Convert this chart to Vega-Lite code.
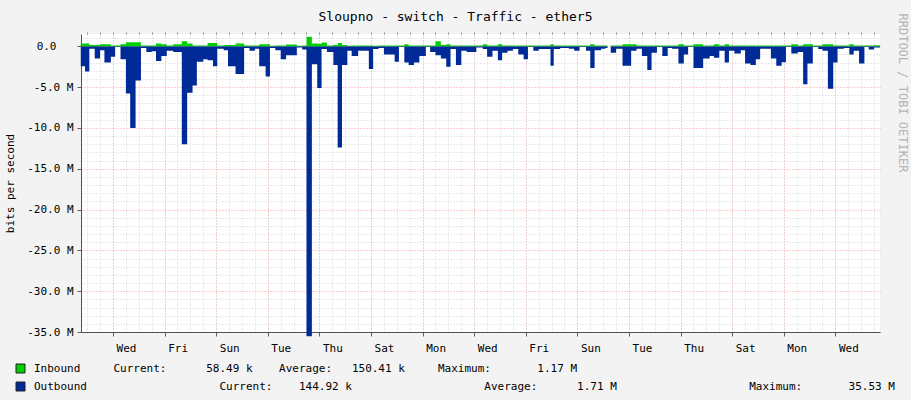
{
  "$schema": "https://vega.github.io/schema/vega-lite/v6.json",
  "width": 799,
  "height": 298,
  "autosize": "none",
  "padding": {"left": 81, "top": 34, "right": 31, "bottom": 68},
  "background": "#F3F3F3",
  "view": {"fill": "white", "stroke": null},
  "config": {
    "font": "DejaVu Sans Mono",
    "axis": {"labelFont": "DejaVu Sans Mono", "titleFont": "DejaVu Sans Mono", "labelFontSize": 11, "labelColor": "#000000", "titleFontWeight": "normal", "titleFontSize": 11, "titleColor": "#000000"},
    "legend": {"labelFont": "DejaVu Sans Mono"}
  },
  "title": {
    "text": "Sloupno - switch - Traffic - ether5",
    "font": "DejaVu Sans Mono",
    "fontSize": 13,
    "fontWeight": "normal",
    "color": "#000000",
    "anchor": "middle",
    "frame": "group",
    "dx": -25,
    "offset": 0,
    "dy": 11
  },
  "data": {
    "values": [
      {"t": "2024-01-01T18:00:00Z", "in": 330000, "out": -2450000},
      {"t": "2024-01-01T22:00:00Z", "in": 330000, "out": -3100000},
      {"t": "2024-01-02T02:00:00Z", "in": 150000, "out": -300000},
      {"t": "2024-01-02T07:00:00Z", "in": 150000, "out": -1500000},
      {"t": "2024-01-02T12:00:00Z", "in": 250000, "out": -500000},
      {"t": "2024-01-02T16:00:00Z", "in": 250000, "out": -2000000},
      {"t": "2024-01-02T22:00:00Z", "in": 100000, "out": -1300000},
      {"t": "2024-01-03T02:00:00Z", "in": 100000, "out": -100000},
      {"t": "2024-01-03T07:00:00Z", "in": 250000, "out": -1600000},
      {"t": "2024-01-03T12:00:00Z", "in": 500000, "out": -5800000},
      {"t": "2024-01-03T16:00:00Z", "in": 500000, "out": -10000000},
      {"t": "2024-01-03T21:00:00Z", "in": 500000, "out": -4200000},
      {"t": "2024-01-04T02:00:00Z", "in": 100000, "out": -200000},
      {"t": "2024-01-04T07:00:00Z", "in": 80000, "out": -700000},
      {"t": "2024-01-04T12:00:00Z", "in": 80000, "out": -600000},
      {"t": "2024-01-04T16:00:00Z", "in": 330000, "out": -1800000},
      {"t": "2024-01-04T21:00:00Z", "in": 250000, "out": -1200000},
      {"t": "2024-01-05T02:00:00Z", "in": 80000, "out": -550000},
      {"t": "2024-01-05T08:00:00Z", "in": 250000, "out": -700000},
      {"t": "2024-01-05T16:00:00Z", "in": 600000, "out": -12000000},
      {"t": "2024-01-05T21:00:00Z", "in": 330000, "out": -5700000},
      {"t": "2024-01-06T02:00:00Z", "in": 80000, "out": -4800000},
      {"t": "2024-01-06T06:00:00Z", "in": 80000, "out": -1900000},
      {"t": "2024-01-06T12:00:00Z", "in": 80000, "out": -1600000},
      {"t": "2024-01-06T16:00:00Z", "in": 400000, "out": -1700000},
      {"t": "2024-01-06T21:00:00Z", "in": 400000, "out": -2450000},
      {"t": "2024-01-07T01:00:00Z", "in": 80000, "out": -300000},
      {"t": "2024-01-07T07:00:00Z", "in": 150000, "out": -500000},
      {"t": "2024-01-07T11:00:00Z", "in": 150000, "out": -2450000},
      {"t": "2024-01-07T18:00:00Z", "in": 330000, "out": -3400000},
      {"t": "2024-01-08T02:00:00Z", "in": 100000, "out": -200000},
      {"t": "2024-01-08T07:00:00Z", "in": 100000, "out": -550000},
      {"t": "2024-01-08T12:00:00Z", "in": 100000, "out": -300000},
      {"t": "2024-01-08T16:00:00Z", "in": 250000, "out": -2450000},
      {"t": "2024-01-08T22:00:00Z", "in": 250000, "out": -3700000},
      {"t": "2024-01-09T02:00:00Z", "in": 50000, "out": -200000},
      {"t": "2024-01-09T07:00:00Z", "in": 100000, "out": -500000},
      {"t": "2024-01-09T12:00:00Z", "in": 100000, "out": -1600000},
      {"t": "2024-01-09T17:00:00Z", "in": 200000, "out": -1100000},
      {"t": "2024-01-10T03:00:00Z", "in": 50000, "out": -150000},
      {"t": "2024-01-10T08:00:00Z", "in": 80000, "out": -400000},
      {"t": "2024-01-10T12:00:00Z", "in": 1170000, "out": -35530000},
      {"t": "2024-01-10T17:00:00Z", "in": 330000, "out": -2200000},
      {"t": "2024-01-10T22:00:00Z", "in": 300000, "out": -5100000},
      {"t": "2024-01-11T02:00:00Z", "in": 450000, "out": -350000},
      {"t": "2024-01-11T07:00:00Z", "in": 100000, "out": -700000},
      {"t": "2024-01-11T13:00:00Z", "in": 150000, "out": -2300000},
      {"t": "2024-01-11T17:00:00Z", "in": 400000, "out": -12400000},
      {"t": "2024-01-11T21:00:00Z", "in": 150000, "out": -2300000},
      {"t": "2024-01-12T02:00:00Z", "in": 50000, "out": -550000},
      {"t": "2024-01-12T06:00:00Z", "in": 100000, "out": -1200000},
      {"t": "2024-01-12T12:00:00Z", "in": 100000, "out": -550000},
      {"t": "2024-01-12T22:00:00Z", "in": 100000, "out": -2800000},
      {"t": "2024-01-13T02:00:00Z", "in": 50000, "out": -350000},
      {"t": "2024-01-13T07:00:00Z", "in": 100000, "out": -200000},
      {"t": "2024-01-13T12:00:00Z", "in": 100000, "out": -1000000},
      {"t": "2024-01-13T22:00:00Z", "in": 100000, "out": -1900000},
      {"t": "2024-01-14T02:00:00Z", "in": 100000, "out": -100000},
      {"t": "2024-01-14T07:00:00Z", "in": 250000, "out": -2000000},
      {"t": "2024-01-14T11:00:00Z", "in": 80000, "out": -2300000},
      {"t": "2024-01-14T16:00:00Z", "in": 80000, "out": -2000000},
      {"t": "2024-01-14T21:00:00Z", "in": 80000, "out": -1200000},
      {"t": "2024-01-15T03:00:00Z", "in": 80000, "out": -100000},
      {"t": "2024-01-15T07:00:00Z", "in": 80000, "out": -700000},
      {"t": "2024-01-15T12:00:00Z", "in": 600000, "out": -1100000},
      {"t": "2024-01-15T17:00:00Z", "in": 150000, "out": -1500000},
      {"t": "2024-01-15T22:00:00Z", "in": 250000, "out": -2500000},
      {"t": "2024-01-16T02:00:00Z", "in": 80000, "out": -350000},
      {"t": "2024-01-16T07:00:00Z", "in": 80000, "out": -2300000},
      {"t": "2024-01-16T12:00:00Z", "in": 80000, "out": -550000},
      {"t": "2024-01-16T17:00:00Z", "in": 80000, "out": -700000},
      {"t": "2024-01-17T02:00:00Z", "in": 80000, "out": -150000},
      {"t": "2024-01-17T08:00:00Z", "in": 250000, "out": -350000},
      {"t": "2024-01-17T12:00:00Z", "in": 80000, "out": -1300000},
      {"t": "2024-01-17T17:00:00Z", "in": 80000, "out": -550000},
      {"t": "2024-01-17T22:00:00Z", "in": 250000, "out": -1700000},
      {"t": "2024-01-18T02:00:00Z", "in": 80000, "out": -800000},
      {"t": "2024-01-18T07:00:00Z", "in": 80000, "out": -550000},
      {"t": "2024-01-18T12:00:00Z", "in": 80000, "out": -350000},
      {"t": "2024-01-18T17:00:00Z", "in": 80000, "out": -1000000},
      {"t": "2024-01-18T22:00:00Z", "in": 80000, "out": -1600000},
      {"t": "2024-01-19T02:00:00Z", "in": 80000, "out": -100000},
      {"t": "2024-01-19T07:00:00Z", "in": 80000, "out": -550000},
      {"t": "2024-01-19T12:00:00Z", "in": 80000, "out": -350000},
      {"t": "2024-01-19T23:00:00Z", "in": 250000, "out": -2400000},
      {"t": "2024-01-20T02:00:00Z", "in": 80000, "out": -350000},
      {"t": "2024-01-20T08:00:00Z", "in": 80000, "out": -200000},
      {"t": "2024-01-20T16:00:00Z", "in": 80000, "out": -300000},
      {"t": "2024-01-20T21:00:00Z", "in": 80000, "out": -550000},
      {"t": "2024-01-21T02:00:00Z", "in": 80000, "out": -100000},
      {"t": "2024-01-21T08:00:00Z", "in": 80000, "out": -550000},
      {"t": "2024-01-21T12:00:00Z", "in": 250000, "out": -2650000},
      {"t": "2024-01-21T16:00:00Z", "in": 80000, "out": -500000},
      {"t": "2024-01-21T22:00:00Z", "in": 80000, "out": -300000},
      {"t": "2024-01-22T02:00:00Z", "in": 80000, "out": -200000},
      {"t": "2024-01-22T04:00:00Z", "in": 0, "out": 0},
      {"t": "2024-01-22T07:00:00Z", "in": 80000, "out": -800000},
      {"t": "2024-01-22T12:00:00Z", "in": 80000, "out": -300000},
      {"t": "2024-01-22T18:00:00Z", "in": 250000, "out": -2400000},
      {"t": "2024-01-23T02:00:00Z", "in": 250000, "out": -550000},
      {"t": "2024-01-23T07:00:00Z", "in": 80000, "out": -300000},
      {"t": "2024-01-23T12:00:00Z", "in": 80000, "out": -1200000},
      {"t": "2024-01-23T17:00:00Z", "in": 80000, "out": -2900000},
      {"t": "2024-01-23T21:00:00Z", "in": 80000, "out": -800000},
      {"t": "2024-01-24T02:00:00Z", "in": 80000, "out": -100000},
      {"t": "2024-01-24T07:00:00Z", "in": 80000, "out": -1200000},
      {"t": "2024-01-24T12:00:00Z", "in": 80000, "out": -200000},
      {"t": "2024-01-24T16:00:00Z", "in": 80000, "out": -300000},
      {"t": "2024-01-24T22:00:00Z", "in": 250000, "out": -2100000},
      {"t": "2024-01-25T03:00:00Z", "in": 80000, "out": -1000000},
      {"t": "2024-01-25T07:00:00Z", "in": 80000, "out": -100000},
      {"t": "2024-01-25T12:00:00Z", "in": 250000, "out": -2650000},
      {"t": "2024-01-25T21:00:00Z", "in": 80000, "out": -1500000},
      {"t": "2024-01-26T03:00:00Z", "in": 80000, "out": -1200000},
      {"t": "2024-01-26T07:00:00Z", "in": 250000, "out": -1400000},
      {"t": "2024-01-26T12:00:00Z", "in": 80000, "out": -550000},
      {"t": "2024-01-26T17:00:00Z", "in": 250000, "out": -2000000},
      {"t": "2024-01-26T21:00:00Z", "in": 80000, "out": -550000},
      {"t": "2024-01-27T02:00:00Z", "in": 80000, "out": -900000},
      {"t": "2024-01-27T08:00:00Z", "in": 80000, "out": -500000},
      {"t": "2024-01-27T12:00:00Z", "in": 80000, "out": -2100000},
      {"t": "2024-01-27T17:00:00Z", "in": 80000, "out": -2300000},
      {"t": "2024-01-27T22:00:00Z", "in": 80000, "out": -1600000},
      {"t": "2024-01-28T02:00:00Z", "in": 80000, "out": -300000},
      {"t": "2024-01-28T12:00:00Z", "in": 80000, "out": -1500000},
      {"t": "2024-01-28T17:00:00Z", "in": 80000, "out": -2400000},
      {"t": "2024-01-28T22:00:00Z", "in": 80000, "out": -1950000},
      {"t": "2024-01-29T02:00:00Z", "in": 80000, "out": -100000},
      {"t": "2024-01-29T07:00:00Z", "in": 250000, "out": -900000},
      {"t": "2024-01-29T13:00:00Z", "in": 80000, "out": -700000},
      {"t": "2024-01-29T18:00:00Z", "in": 250000, "out": -4650000},
      {"t": "2024-01-29T22:00:00Z", "in": 250000, "out": -2100000},
      {"t": "2024-01-30T03:00:00Z", "in": 80000, "out": -100000},
      {"t": "2024-01-30T08:00:00Z", "in": 80000, "out": -350000},
      {"t": "2024-01-30T12:00:00Z", "in": 250000, "out": -550000},
      {"t": "2024-01-30T17:00:00Z", "in": 250000, "out": -5200000},
      {"t": "2024-01-30T22:00:00Z", "in": 80000, "out": -2000000},
      {"t": "2024-01-31T02:00:00Z", "in": 80000, "out": -300000},
      {"t": "2024-01-31T08:00:00Z", "in": 80000, "out": -200000},
      {"t": "2024-01-31T13:00:00Z", "in": 250000, "out": -1000000},
      {"t": "2024-01-31T17:00:00Z", "in": 80000, "out": -550000},
      {"t": "2024-01-31T22:00:00Z", "in": 80000, "out": -2100000},
      {"t": "2024-02-01T03:00:00Z", "in": 80000, "out": -100000},
      {"t": "2024-02-01T07:00:00Z", "in": 80000, "out": -400000},
      {"t": "2024-02-01T12:00:00Z", "in": 120000, "out": -150000},
      {"t": "2024-02-01T17:30:00Z", "in": 58490, "out": -144920}
    ]
  },
  "layer": [
    {
      "mark": {"type": "area", "interpolate": "step-after"},
      "encoding": {
        "x": {
          "field": "t", "type": "temporal",
          "scale": {"type": "utc", "domain": ["2024-01-01T18:14:00Z", "2024-02-01T17:30:00Z"]},
          "axis": {
            "title": null,
            "values": [1704240000000, 1704412800000, 1704585600000, 1704758400000, 1704931200000, 1705104000000, 1705276800000, 1705449600000, 1705622400000, 1705795200000, 1705968000000, 1706140800000, 1706313600000, 1706486400000, 1706659200000],
            "format": "%a",
            "labelOffset": 13,
            "labelPadding": 6,
            "labelFlush": false,
            "labelOverlap": false,
            "grid": true,
            "gridColor": "#FF9A9A",
            "gridDash": [1, 2],
            "ticks": true,
            "tickSize": 4,
            "tickColor": "#606060",
            "domain": true,
            "domainColor": "#505050"
          }
        },
        "y": {
          "field": "out", "type": "quantitative",
          "scale": {"domain": [-35000000, 1500000], "nice": false, "zero": false},
          "axis": {
            "title": "bits per second",
            "titlePadding": 11,
            "values": [-35000000, -30000000, -25000000, -20000000, -15000000, -10000000, -5000000, 0],
            "labelExpr": "datum.value == 0 ? '0.0' : '-' + format(-datum.value / 1000000, '.1f') + ' M'",
            "labelPadding": {"condition": {"test": "datum.value == 0", "value": 21}, "value": 4},
            "grid": true,
            "gridColor": "#FF9A9A",
            "gridDash": [1, 2],
            "ticks": true,
            "tickSize": 4,
            "tickColor": "#606060",
            "domain": true,
            "domainColor": "#505050"
          }
        },
        "y2": {"datum": 0},
        "color": {
          "datum": "Outbound",
          "type": "nominal",
          "scale": {"domain": ["Inbound", "Outbound"], "range": ["#00CF00", "#002A97"]},
          "legend": {
            "title": null,
            "orient": "none",
            "legendX": -66,
            "legendY": 329,
            "direction": "vertical",
            "symbolType": "square",
            "symbolSize": 81,
            "symbolStrokeColor": "#202020",
            "symbolStrokeWidth": 1,
            "labelFontSize": 11,
            "labelColor": "#000000",
            "labelLimit": 900,
            "labelOffset": 8,
            "rowPadding": 5,
            "labelExpr": "datum.label == 'Inbound' ? 'Inbound\u00a0\u00a0\u00a0\u00a0\u00a0Current:\u00a0\u00a0\u00a0\u00a0\u00a0\u00a058.49\u00a0k\u00a0\u00a0\u00a0\u00a0Average:\u00a0\u00a0\u00a0150.41\u00a0k\u00a0\u00a0\u00a0\u00a0\u00a0Maximum:\u00a0\u00a0\u00a0\u00a0\u00a0\u00a0\u00a01.17\u00a0M' : 'Outbound\u00a0\u00a0\u00a0\u00a0\u00a0\u00a0\u00a0\u00a0\u00a0\u00a0\u00a0\u00a0\u00a0\u00a0\u00a0\u00a0\u00a0\u00a0\u00a0\u00a0Current:\u00a0\u00a0\u00a0\u00a0144.92\u00a0k\u00a0\u00a0\u00a0\u00a0\u00a0\u00a0\u00a0\u00a0\u00a0\u00a0\u00a0\u00a0\u00a0\u00a0\u00a0\u00a0\u00a0\u00a0\u00a0\u00a0Average:\u00a0\u00a0\u00a0\u00a0\u00a0\u00a01.71\u00a0M\u00a0\u00a0\u00a0\u00a0\u00a0\u00a0\u00a0\u00a0\u00a0\u00a0\u00a0\u00a0\u00a0\u00a0\u00a0\u00a0\u00a0\u00a0\u00a0\u00a0Maximum:\u00a0\u00a0\u00a0\u00a0\u00a0\u00a0\u00a035.53\u00a0M'"
          }
        }
      }
    },
    {
      "mark": {"type": "area", "interpolate": "step-after"},
      "encoding": {
        "x": {
          "field": "t", "type": "temporal",
          "axis": {
            "title": null,
            "values": [1704153600000, 1704196800000, 1704240000000, 1704283200000, 1704326400000, 1704369600000, 1704412800000, 1704456000000, 1704499200000, 1704542400000, 1704585600000, 1704628800000, 1704672000000, 1704715200000, 1704758400000, 1704801600000, 1704844800000, 1704888000000, 1704931200000, 1704974400000, 1705017600000, 1705060800000, 1705104000000, 1705147200000, 1705190400000, 1705233600000, 1705276800000, 1705320000000, 1705363200000, 1705406400000, 1705449600000, 1705492800000, 1705536000000, 1705579200000, 1705622400000, 1705665600000, 1705708800000, 1705752000000, 1705795200000, 1705838400000, 1705881600000, 1705924800000, 1705968000000, 1706011200000, 1706054400000, 1706097600000, 1706140800000, 1706184000000, 1706227200000, 1706270400000, 1706313600000, 1706356800000, 1706400000000, 1706443200000, 1706486400000, 1706529600000, 1706572800000, 1706616000000, 1706659200000, 1706702400000, 1706745600000, 1706788800000],
            "labels": false,
            "grid": true,
            "gridColor": "#D4D4D4",
            "gridDash": [1, 2],
            "ticks": true,
            "tickSize": 2,
            "tickColor": "#909090",
            "domain": false
          }
        },
        "y": {
          "field": "in", "type": "quantitative",
          "axis": {
            "orient": "right",
            "title": "RRDTOOL / TOBI OETIKER",
            "titleColor": "#B4B4B4",
            "titleFontSize": 12,
            "titleAngle": 90,
            "titleAlign": "left",
            "titleBaseline": "middle",
            "titleX": 22,
            "titleY": -21,
            "values": [-34000000, -33000000, -32000000, -31000000, -29000000, -28000000, -27000000, -26000000, -24000000, -23000000, -22000000, -21000000, -19000000, -18000000, -17000000, -16000000, -14000000, -13000000, -12000000, -11000000, -9000000, -8000000, -7000000, -6000000, -4000000, -3000000, -2000000, -1000000, 1000000],
            "labels": false,
            "grid": true,
            "gridColor": "#D4D4D4",
            "gridDash": [1, 2],
            "ticks": false,
            "domain": false
          }
        },
        "y2": {"datum": 0},
        "color": {"datum": "Inbound", "type": "nominal"}
      }
    }
  ],
  "resolve": {"axis": {"x": "independent", "y": "independent"}}
}
